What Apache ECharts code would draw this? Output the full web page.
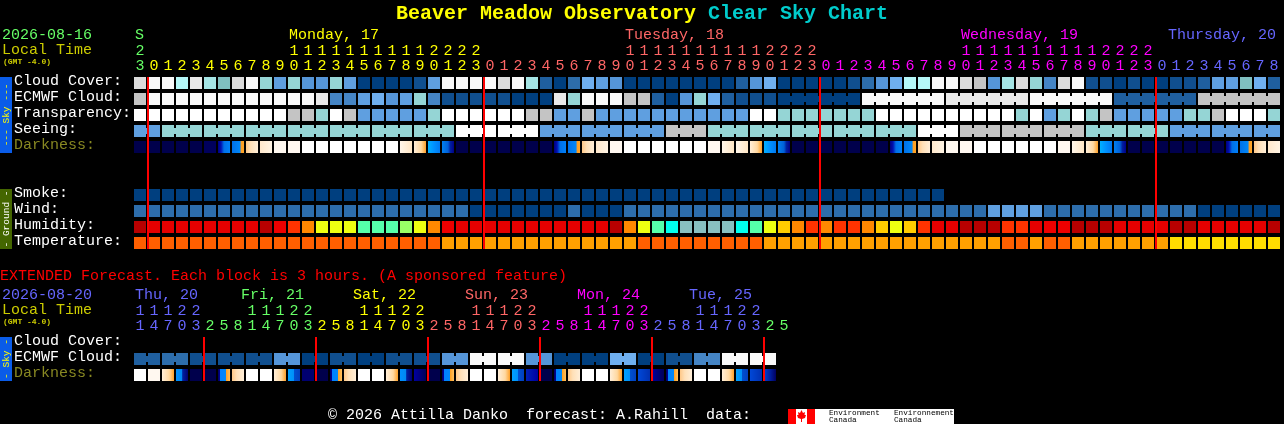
<!DOCTYPE html>
<html><head><meta charset="utf-8">
<style>html,body{margin:0;padding:0;background:#000}#c{width:1284px;height:424px}</style>
<script src="https://cdn.jsdelivr.net/npm/echarts@6/dist/echarts.min.js"></script>
</head><body><div id="c"></div>
<script>
const mainHours=[23,0,1,2,3,4,5,6,7,8,9,10,11,12,13,14,15,16,17,18,19,20,21,22,23,0,1,2,3,4,5,6,7,8,9,10,11,12,13,14,15,16,17,18,19,20,21,22,23,0,1,2,3,4,5,6,7,8,9,10,11,12,13,14,15,16,17,18,19,20,21,22,23,0,1,2,3,4,5,6,7,8];
const extHours=[11,14,17,20,23,2,5,8,11,14,17,20,23,2,5,8,11,14,17,20,23,2,5,8,11,14,17,20,23,2,5,8,11,14,17,20,23,2,5,8,11,14,17,20,23,2,5];
const mainRows=['Cloud Cover:','ECMWF Cloud:','Transparency:','Seeing:','Darkness:','','','Smoke:','Wind:','Humidity:','Temperature:'];
const extRows=['Cloud Cover:','ECMWF Cloud:','Darkness:'];
const mainDays=[[0,'S','#66ff66'],[11,'Monday, 17','#ffff00'],[35,'Tuesday, 18','#ff6666'],[59,'Wednesday, 19','#ff00ff'],[74,'Thursday, 20','#6666ff']];
const extDays=[[0,'Thu, 20','#6666ff'],[8,'Fri, 21','#66ff66'],[16,'Sat, 22','#ffff00'],[24,'Sun, 23','#ff6666'],[32,'Mon, 24','#ff00ff'],[40,'Tue, 25','#6666ff']];
const mainMidnights=[1,25,49,73];
const extMidnights=[5,13,21,29,37,45];

const cloudCover=[13,15,15,11,14,10,8,13,15,9,6,9,5,5,9,6,0,0,0,0,1,6,15,15,15,15,13,15,10,2,0,3,7,6,5,0,0,0,0,0,0,0,0,2,5,7,0,0,0,0,0,1,3,5,7,11,11,15,15,13,12,5,10,13,9,4,13,15,1,1,0,1,0,0,1,1,2,6,6,8,7,2];
const ecmwfCloud=[12,15,15,15,15,15,15,15,15,15,15,15,15,14,4,4,6,7,5,6,9,4,1,1,1,1,1,0,0,0,14,9,15,15,15,12,12,2,0,5,9,7,2,1,1,1,0,0,0,0,0,0,15,15,15,15,15,15,14,14,14,14,14,14,15,15,15,15,15,15,2,2,2,2,2,2,12,12,12,12,12,12];
const ecmwfBlocks=[1,1,1,1,1,1,1,1,1,1,1,1,1,1,1,1,1,1,1,1,1,1,1,1,1,1,1,1,1,1,1,1,1,1,1,1,1,1,1,1,1,1,1,1,1,1,6,6,6,6,6,6];
const transparency=[16,16,16,16,16,16,16,16,16,16,16,12,12,9,16,12,6,6,6,6,6,9,16,16,16,16,16,16,12,12,6,6,12,6,6,6,6,6,6,6,6,6,6,6,16,16,9,9,9,9,9,9,9,16,16,16,16,16,16,16,16,16,16,9,16,6,9,16,9,12,6,6,6,6,6,9,9,12,16,16,16,9];
const seeing=[6,6,9,9,9,9,9,9,9,9,9,9,9,9,9,9,9,9,9,9,9,9,9,16,16,16,16,16,16,6,6,6,6,6,6,6,6,6,12,12,12,9,9,9,9,9,9,9,9,9,9,9,9,9,9,9,16,16,16,12,12,12,12,12,12,12,12,12,9,9,9,9,9,9,6,6,6,6,6,6,6,6];
const seeingBlocks=[2,3,3,3,3,3,3,3,3,3,3,3,3,3,3,3,3,3,3,3,3,3,3,3,3,3,3,2];
const darkness=[0,0,0,0,0,1,3,4,5,6,7,7,8,8,8,8,8,8,8,9,10,11,12,0,0,0,0,0,0,0,3,4,5,6,7,8,8,8,8,8,8,7,9,9,10,11,12,0,0,0,0,0,0,0,3,4,5,6,7,7,8,8,8,8,8,8,7,9,10,11,12,0,0,0,0,0,0,0,3,4,5,6];
const smoke=[0,0,0,0,0,0,0,0,0,0,0,0,0,0,0,0,0,0,0,0,0,0,0,0,0,0,0,0,0,0,0,0,0,0,0,0,0,0,0,0,0,0,0,0,0,0,0,0,0,0,0,0,0,0,0,0,0,0];
const wind=[3,3,3,3,3,3,3,3,3,3,3,3,3,3,3,3,3,3,3,3,3,3,3,3,0,0,0,0,0,0,0,3,0,0,0,3,3,3,3,3,3,3,3,3,3,3,3,3,3,3,3,3,3,3,3,3,3,3,3,3,3,6,6,6,6,3,3,3,3,3,3,3,3,3,3,3,0,0,0,0,0,0];
const humidity=[0,1,1,1,1,1,1,1,1,0,2,3,4,6,6,6,8,8,8,7,6,4,2,1,1,1,1,1,1,1,1,1,1,1,0,4,6,8,9,10,10,10,10,9,8,6,5,4,3,4,3,3,4,5,6,5,3,1,1,0,0,0,3,3,1,2,2,0,0,0,1,1,1,1,0,0,1,1,1,1,1,0];
const temperature=[0,0,0,0,0,0,0,0,0,0,0,0,0,0,0,0,0,0,0,0,0,0,1,1,1,1,1,1,1,1,1,1,1,1,1,1,0,0,0,0,0,0,0,0,0,1,1,1,1,1,1,1,1,1,1,1,1,1,1,1,1,1,0,0,1,0,0,1,1,1,1,1,1,1,2,2,2,2,2,2,2,2];
const extEcmwf=[2,2,3,3,1,1,1,1,1,1,5,5,0,0,1,1,0,0,1,1,1,1,5,5,15,15,15,15,5,5,0,0,0,0,7,7,0,0,1,1,4,4,15,15,15,15];
const extBlocks=[2,2,2,2,2,2,2,2,2,2,2,2,2,2,2,2,2,2,2,2,2,2,2];
const extDarkness=[8,7,10,16,0,0,15,5,8,8,10,13,2,0,15,5,8,8,10,16,17,0,15,5,8,8,10,13,19,0,15,5,8,8,10,13,14,17,15,5,8,8,10,13,14,18];

const cloudColors=['#003f7f','#104f8f','#1f5f9f','#2d6dab','#4585c5','#5595d8','#5f9fe0','#6fafef','#80c0c0','#95d5d5','#a5e5e5','#b5f8f8','#c4c4c4','#dcdcdc','#e9e9e9','#f9f9f9','#ffffff'];
const windColors=cloudColors;
const humidityColors=['#b80000','#e60000','#ee0000','#ff3300','#ff8800','#ffcc00','#eeff11','#99ff66','#55ffaa','#00ffee','#88c0c0'];
const tempColors=['#ff5f00','#ffa000','#ffdd00'];
const G=(...s)=>new echarts.graphic.LinearGradient(0,0,1,0,s.map(([o,c])=>({offset:o,color:c})));
const darkColors=['#00004c','#00005c','#000070',
 G([0,'#000080'],[.25,'#0010b0'],[.5,'#0070e8'],[1,'#0080f8']),
 G([0,'#0070e8'],[.7,'#0088f8'],[.72,'#ff9a20'],[1,'#ffa828']),
 G([0,'#ffc888'],[.4,'#ffe0b8'],[1,'#ffeed8']),
 G([0,'#ffe8cc'],[1,'#fff4e4']),'#fff8f0','#ffffff',
 G([0,'#fff6ea'],[1,'#ffe6c4']),
 G([0,'#ffeed8'],[.6,'#ffd8a0'],[1,'#ffa028']),
 G([0,'#00b0ff'],[.5,'#0090ff'],[1,'#0078f0']),
 G([0,'#0080f0'],[.5,'#0060d8'],[.7,'#0020a0'],[1,'#000088']),
 G([0,'#00a0ff'],[.5,'#0090f8'],[.52,'#0050d0'],[1,'#0040c0']),
 G([0,'#0048d8'],[1,'#0030b0']),
 G([0,'#000060'],[.14,'#000090'],[.18,'#0080ff'],[.66,'#0088f8'],[.68,'#ffa020'],[1,'#ffc060']),
 G([0,'#0090ff'],[.5,'#0088f0'],[.55,'#0020a0'],[1,'#000070']),
 G([0,'#0000a0'],[1,'#000058']),
 G([0,'#0040d0'],[.5,'#0020a0'],[1,'#000060']),
 G([0,'#0020b8'],[1,'#0000a0'])];

const FONT='"Liberation Mono",monospace';
const CELL=12, PITCH=14, TOPOFF=4;
function joinFlags(blocks){const f=[];blocks.forEach(b=>{for(let i=0;i<b;i++)f.push(i<b-1?1:0)});return f;}
function cellSeries(name,row,values,colors,axis,blocks){
  const j=blocks?joinFlags(blocks):[];
  return {type:'custom',name,xAxisIndex:axis.x,yAxisIndex:axis.y,silent:true,z:2,clip:false,
    encode:{x:0,y:1},
    data:values.map((v,k)=>[k,row,v,j[k]||0]),
    renderItem(p,api){
      const c=api.coord([api.value(0),api.value(1)]);
      const x=c[0]-PITCH/2,y=c[1]-TOPOFF,fill=colors[api.value(2)];
      const kids=[{type:'rect',shape:{x,y,width:CELL,height:CELL},style:{fill}}];
      if(api.value(3))kids.push({type:'rect',shape:{x:x+CELL,y:y+3,width:PITCH-CELL,height:CELL-6},style:{fill}});
      return {type:'group',children:kids};
    }};
}
function lineSeries(cols,lastRow,axis){
  return {type:'custom',xAxisIndex:axis.x,yAxisIndex:axis.y,silent:true,z:5,clip:false,
    encode:{x:0,y:1},
    data:cols.map(k=>[k,0]),
    renderItem(p,api){
      const a=api.coord([api.value(0),0]),b=api.coord([api.value(0),lastRow]);
      return {type:'rect',shape:{x:a[0]-PITCH/2-1,y:a[1]-TOPOFF,width:2,height:b[1]-a[1]+CELL},style:{fill:'#ff0000'}};
    }};
}
function daySeries(days,rise,nudge,axis){
  return {type:'custom',xAxisIndex:axis.x,yAxisIndex:axis.y,silent:true,z:3,clip:false,
    encode:{x:0,y:1},
    data:days.map(d=>[d[0],0]),
    renderItem(p,api){
      const c=api.coord([api.value(0),0]),d=days[p.dataIndex];
      return {type:'text',x:c[0]-PITCH/2+nudge(p.dataIndex),y:c[1]-rise,
        style:{text:d[1],fill:d[2],font:'15px '+FONT,verticalAlign:'middle',align:'left'}};
    }};
}
const mainColor=k=>k===0?'#66ff66':k<=24?'#ffff00':k<=48?'#ff6666':k<=72?'#ff00ff':'#6666ff';
const extColor=k=>k<=4?'#6666ff':k<=12?'#66ff66':k<=20?'#ffff00':k<=28?'#ff6666':k<=36?'#ff00ff':k<=44?'#6666ff':'#66ff66';
function xAxes(hours,colorFn,grid){
  const base={type:'category',gridIndex:grid,position:'top',axisLine:{show:false},axisTick:{show:false},splitLine:{show:false}};
  const lbl=()=>({interval:0,hideOverlap:false,margin:-1,fontFamily:FONT,fontSize:15,padding:[0,2,0,0],color:(v,k)=>colorFn(k)});
  return [
    {...base,data:hours.map(h=>String(h%10)),axisLabel:lbl()},
    {...base,offset:15,data:hours.map(h=>h>=10?String(Math.floor(h/10)):''),axisLabel:lbl()}
  ];
}
function yAxis(rows,grid){
  return {type:'category',gridIndex:grid,inverse:true,data:rows,axisLine:{show:false},axisTick:{show:false},splitLine:{show:false},
    axisLabel:{interval:0,align:'left',margin:120,fontFamily:FONT,fontSize:15,color:v=>v==='Darkness:'?'#888822':'#ffffff'}};
}
const M={x:0,y:0},E={x:2,y:1};
const strip=(y,h,fill,text,color)=>[
  {type:'rect',shape:{x:0,y,width:12,height:h},style:{fill}},
  {type:'text',x:6,y:y+h/2,rotation:Math.PI/2,style:{text,fill:color,font:'9.5px '+FONT,align:'center',verticalAlign:'middle'}}];
const txt=(x,y,text,fill,size=15,weight='')=>({type:'text',x,y,style:{text,fill,font:`${weight} ${size}px ${FONT}`,verticalAlign:'middle',align:'left'}});
const chart=echarts.init(document.getElementById('c'),null,{renderer:'canvas',width:1284,height:424});
chart.setOption({
  animation:false,backgroundColor:'#000000',
  title:{text:'{a|Beaver Meadow Observatory }{b|Clear Sky Chart}',left:'center',top:-1,
    textStyle:{rich:{a:{fontFamily:FONT,fontWeight:'bold',fontSize:20,color:'#ffff00'},b:{fontFamily:FONT,fontWeight:'bold',fontSize:20,color:'#00cccc'}}}},
  grid:[{left:134,top:73,width:1148,height:176,containLabel:false},{left:134,top:333,width:658,height:48}],
  xAxis:[...xAxes(mainHours,mainColor,0),...xAxes(extHours,extColor,1)],
  yAxis:[yAxis(mainRows,0),yAxis(extRows,1)],
  series:[
    cellSeries('Cloud Cover',0,cloudCover,cloudColors,M),
    cellSeries('ECMWF Cloud',1,ecmwfCloud,cloudColors,M,ecmwfBlocks),
    cellSeries('Transparency',2,transparency,cloudColors,M),
    cellSeries('Seeing',3,seeing,cloudColors,M,seeingBlocks),
    cellSeries('Darkness',4,darkness,darkColors,M),
    cellSeries('Smoke',7,smoke,cloudColors,M),
    cellSeries('Wind',8,wind,windColors,M),
    cellSeries('Humidity',9,humidity,humidityColors,M),
    cellSeries('Temperature',10,temperature,tempColors,M),
    cellSeries('ECMWF Cloud ext',1,extEcmwf,cloudColors,E,extBlocks),
    cellSeries('Darkness ext',2,extDarkness,darkColors,E),
    lineSeries(mainMidnights,10,M),
    lineSeries(extMidnights,2,E),
    daySeries(mainDays,46,i=>i===0?1:i===4?-2:1,M),
    daySeries(extDays,46,i=>i===0?1:-5,E)
  ],
  graphic:{elements:[
    ...strip(77,76,'#0a5ce8','--- Sky ---','#ffff00'),
    ...strip(189,60,'#446600','- Ground -','#ffffff'),
    ...strip(337,44,'#0a5ce8','- Sky -','#ffff00'),
    txt(2,35,'2026-08-16','#66ff66'),
    txt(2,50,'Local Time','#cccc00'),
    txt(3,62,'(GMT -4.0)','#cccc00',8,'bold'),
    txt(0,276,'EXTENDED Forecast. Each block is 3 hours. (A sponsored feature)','#ff0000'),
    txt(2,295,'2026-08-20','#6666ff'),
    txt(2,310,'Local Time','#cccc00'),
    txt(3,322,'(GMT -4.0)','#cccc00',8,'bold'),
    txt(328,415,'\u00a9 2026 Attilla Danko  forecast: A.Rahill  data:','#ffffff'),
    {type:'rect',shape:{x:788,y:409,width:166,height:15},style:{fill:'#ffffff'}},
    {type:'rect',shape:{x:788,y:409,width:8,height:15},style:{fill:'#ff0000'}},
    {type:'rect',shape:{x:807,y:409,width:8,height:15},style:{fill:'#ff0000'}},
    {type:'polygon',shape:{points:[[801.5,410],[803,413],[805,412],[804.5,415],[806,415],[805,418],[802,419],[802,422],[801,422],[801,419],[798,418],[797,415],[798.5,415],[798,412],[800,413]]},style:{fill:'#ff0000'}},
    txt(829,413,'Environment','#000000',7.7),
    txt(829,420,'Canada','#000000',7.7),
    txt(894,413,'Environnement','#000000',7.7),
    txt(894,420,'Canada','#000000',7.7)
  ]}
});
</script></body></html>
